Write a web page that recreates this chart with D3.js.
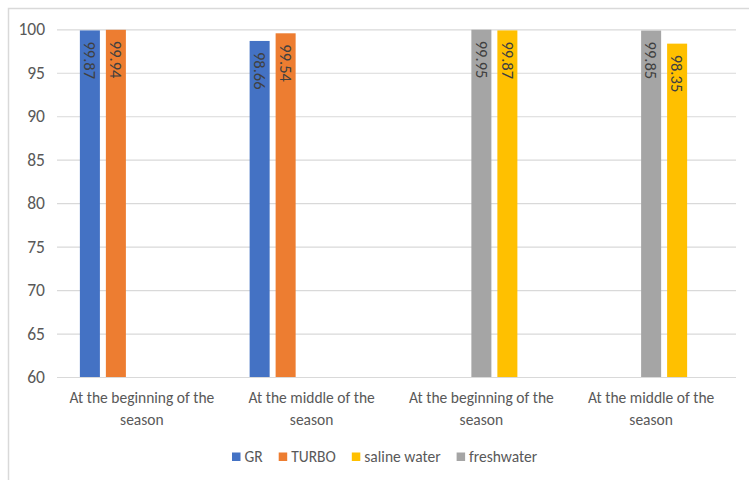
<!DOCTYPE html>
<html>
<head>
<meta charset="utf-8">
<script src="https://cdn.jsdelivr.net/npm/d3@7"></script>
<style>
  body { margin: 0; background: #fff; }
  svg { display: block; }
  text { font-family: Carlito, "Liberation Sans Narrow", "Liberation Sans", Arial, sans-serif; }
</style>
</head>
<body>
<div id="chart"></div>
<script>
// data
var categories = [
    ['At the beginning of the', 'season'],
    ['At the middle of the', 'season'],
    ['At the beginning of the', 'season'],
    ['At the middle of the', 'season']
];
var GR          = [99.87, 98.66, null, null];
var TURBO       = [99.94, 99.54, null, null];
var salineWater = [null, null, 99.87, 98.35];
var freshwater  = [null, null, 99.95, 99.85];
var yTicks = [60, 65, 70, 75, 80, 85, 90, 95, 100];

// cluster slots as laid out in the original (5th slot stays empty)
var slots = ['GR', 'TURBO', 'freshwater', 'saline water', ''];
var legendOrder = ['GR', 'TURBO', 'saline water', 'freshwater'];

var col_blue   = '#4472C4';
var col_orange = '#ED7D31';
var col_gray   = '#A5A5A5';
var col_yellow = '#FFC000';
var col_text   = '#595959';
var col_grid   = '#D9D9D9';

var series = [
    {name: 'GR', values: GR, color: col_blue},
    {name: 'TURBO', values: TURBO, color: col_orange},
    {name: 'saline water', values: salineWater, color: col_yellow},
    {name: 'freshwater', values: freshwater, color: col_gray}
];
var colorOf = {};
series.forEach(function (s) { colorOf[s.name] = s.color; });

var width = 749, height = 480;
var plotLeft = 57, plotRight = 736, plotTop = 29.3, plotBottom = 377;

var svg = d3.select('#chart').append('svg')
    .attr('width', width)
    .attr('height', height);

// chart border (only top and left visible in the original)
svg.append('rect')
    .attr('x', 8.5).attr('y', 8.5)
    .attr('width', width + 20).attr('height', height + 20)
    .attr('fill', 'none')
    .attr('stroke', col_grid)
    .attr('stroke-width', 1.5);

var y = d3.scaleLinear().domain([60, 100]).range([plotBottom, plotTop]);
var x0 = d3.scaleBand().domain(d3.range(categories.length)).range([plotLeft, plotRight]).padding(0);
var x1 = d3.scaleBand().domain(slots).range([-62, 62]).paddingInner(0.23).paddingOuter(0);

// gridlines + y labels
var yAxis = d3.axisLeft(y).tickValues(yTicks).tickSize(-(plotRight - plotLeft)).tickPadding(12);
var gy = svg.append('g')
    .attr('transform', 'translate(' + plotLeft + ',0)')
    .call(yAxis);
gy.select('.domain').remove();
gy.selectAll('.tick line').attr('stroke', col_grid).attr('stroke-width', 1.2);
gy.selectAll('.tick text')
    .attr('fill', col_text)
    .style('font-size', '17.5px');

// bars
var bars = [];
series.forEach(function (s) {
    s.values.forEach(function (v, i) {
        if (v !== null) bars.push({name: s.name, value: v, cat: i, color: s.color});
    });
});

function barX(d) {
    return x0(d.cat) + x0.bandwidth() / 2 + x1(d.name);
}

svg.append('g').selectAll('rect')
    .data(bars)
    .enter().append('rect')
    .attr('x', barX)
    .attr('y', function (d) { return y(d.value); })
    .attr('width', x1.bandwidth())
    .attr('height', function (d) { return y(60) - y(d.value); })
    .attr('fill', function (d) { return d.color; });

// data labels, rotated, inside end
svg.append('g').selectAll('text')
    .data(bars)
    .enter().append('text')
    .attr('transform', function (d) {
        return 'translate(' + (barX(d) + x1.bandwidth() / 2) + ',' + (y(d.value) + 11) + ') rotate(90)';
    })
    .attr('dy', '0.35em')
    .attr('fill', '#404040')
    .style('font-size', '16.5px')
    .text(function (d) { return d.value.toFixed(2); });

// category labels
var cats = svg.append('g').selectAll('text')
    .data(categories)
    .enter().append('text')
    .attr('x', function (d, i) { return x0(i) + x0.bandwidth() / 2; })
    .attr('y', 403)
    .attr('text-anchor', 'middle')
    .attr('fill', col_text)
    .style('font-size', '15.5px');
cats.selectAll('tspan')
    .data(function (d) { return d; })
    .enter().append('tspan')
    .attr('x', function () { return d3.select(this.parentNode).attr('x'); })
    .attr('dy', function (d, i) { return i === 0 ? 0 : 22; })
    .text(function (d) { return d; });

// legend
var legend = svg.append('g');
var lx = 232;
legendOrder.forEach(function (name) {
    legend.append('rect')
        .attr('x', lx).attr('y', 452.5)
        .attr('width', 8.5).attr('height', 8.5)
        .attr('fill', colorOf[name]);
    var t = legend.append('text')
        .attr('x', lx + 12.5).attr('y', 461.5)
        .attr('fill', col_text)
        .style('font-size', '15.5px')
        .text(name);
    lx += 12.5 + t.node().getComputedTextLength() + 16;
});
</script>
</body>
</html>
